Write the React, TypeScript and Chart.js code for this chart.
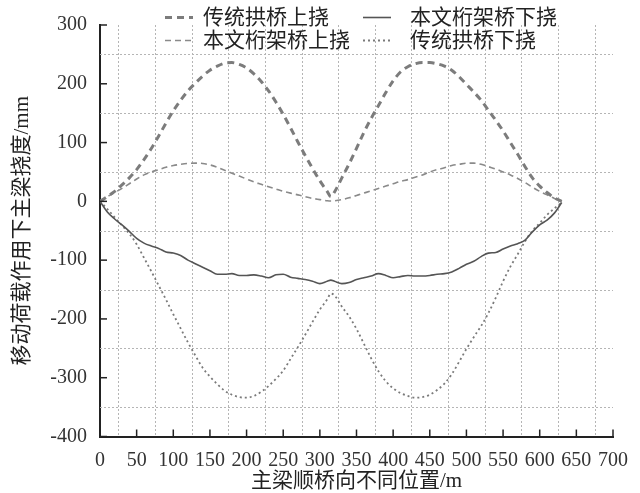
import React, { useEffect, useRef } from 'react';
import { Chart, registerables } from 'chart.js';

Chart.register(...registerables);

// 主梁顺桥向位置 (m)
const positions = [
  0, 10, 20, 30, 40, 50, 60, 70, 80, 90, 100, 110, 120, 130, 140, 150, 160, 170, 180, 190,
  200, 210, 220, 230, 240, 250, 260, 270, 280, 290, 300, 310, 315, 320, 330, 340, 350, 360,
  370, 380, 390, 400, 410, 420, 430, 440, 450, 460, 470, 480, 490, 500, 510, 520, 530, 540,
  550, 560, 570, 580, 590, 600, 610, 620, 630,
];

// 传统拱桥上挠
const archUp = [
  0, 8, 17, 28, 40, 54, 71, 90, 111, 133, 154, 172, 188, 201, 213, 223, 230, 235, 236, 233,
  227, 217, 204, 188, 169, 148, 125, 101, 78, 56, 35, 17, 8, 16, 40, 64, 90, 117,
  141, 163, 185, 205, 220, 229, 234, 236, 236, 234, 230, 223, 212, 199, 186, 172, 155, 138,
  120, 100, 80, 59, 40, 26, 15, 6, 0,
];

// 本文桁架桥上挠
const trussUp = [
  0, 8, 15, 22, 30, 38, 45, 50, 54, 58, 61, 63, 64.5, 65, 64.5, 62, 58, 53, 48, 43,
  38, 33, 29, 25, 21, 17, 14, 11, 8, 5, 3, 1, 0.5, 1, 3, 6, 10, 14,
  18, 22, 26, 30, 34, 37, 41, 45, 50, 54, 57, 61, 63, 65, 65, 63, 59, 55,
  50, 45, 39, 32, 24, 17, 11, 5, 0,
];

// 本文桁架桥下挠
const trussDown = [
  0, -18, -30, -40, -51, -63, -71, -76, -80, -86, -88, -92, -100, -106, -112, -118, -124, -124, -123, -126,
  -126, -125, -127, -130, -125, -124, -129, -131, -133, -136, -140, -136, -134, -136, -140, -138, -133, -130,
  -127, -123, -126, -130, -128, -126, -127, -127, -126, -124, -123, -120, -114, -107, -102, -94, -88, -87,
  -81, -76, -72, -66, -52, -40, -32, -20, -2,
];

// 传统拱桥下挠
const archDown = [
  0, -13, -27, -41, -55, -73, -96, -119, -143, -167, -192, -216, -240, -262, -283, -298, -311, -322, -329, -333,
  -334, -331, -324, -314, -302, -288, -268, -248, -227, -205, -184, -167, -157, -160, -179, -196, -217, -242,
  -267, -289, -306, -318, -326, -331, -334, -333, -329, -321, -310, -294, -273, -251, -231, -212, -190, -164,
  -136, -111, -90, -68, -50, -37, -23, -12, -2,
];

const seriesLabels = ['传统拱桥上挠', '本文桁架桥上挠', '本文桁架桥下挠', '传统拱桥下挠'];

const xGridValues = [25, 75, 125, 175, 225, 275, 325, 375, 425, 475, 525, 575, 625, 675];
const yGridValues = [250, 150, 50, -50, -150, -250, -350];

const xTitle = '主梁顺桥向不同位置/m';
const yTitle = '移动荷载作用下主梁挠度/mm';

const FONT_NUM = "'Liberation Serif', 'DejaVu Serif', serif";
const FONT_TXT = "'Liberation Serif', 'Noto Sans CJK SC', serif";

const customPlugin = {
  id: 'customDecor',
  beforeDatasetsDraw(chart: any) {
    const { ctx, chartArea: a, scales } = chart;
    const x = scales.x;
    const y = scales.y;
    ctx.save();
    ctx.strokeStyle = '#b5b5b5';
    ctx.lineWidth = 1;
    ctx.setLineDash([2, 2]);
    for (const v of xGridValues) {
      const px = Math.round(x.getPixelForValue(v)) + 0.5;
      ctx.beginPath();
      ctx.moveTo(px, a.top);
      ctx.lineTo(px, a.bottom);
      ctx.stroke();
    }
    for (const v of yGridValues) {
      const py = Math.round(y.getPixelForValue(v)) + 0.5;
      ctx.beginPath();
      ctx.moveTo(a.left, py);
      ctx.lineTo(a.right, py);
      ctx.stroke();
    }
    ctx.restore();
  },
  afterDraw(chart: any) {
    const { ctx, chartArea: a, scales } = chart;
    const x = scales.x;
    const y = scales.y;
    ctx.save();
    ctx.strokeStyle = '#222';
    ctx.lineWidth = 1.5;
    ctx.setLineDash([]);
    for (const t of x.ticks) {
      const px = x.getPixelForValue(t.value);
      ctx.beginPath();
      ctx.moveTo(px, a.bottom);
      ctx.lineTo(px, a.bottom - 7);
      ctx.stroke();
    }
    for (const t of y.ticks) {
      const py = y.getPixelForValue(t.value);
      ctx.beginPath();
      ctx.moveTo(a.left, py);
      ctx.lineTo(a.left + 7, py);
      ctx.stroke();
    }
    // legend (two columns)
    const colSym = [165, 363];
    const colText = [203, 410];
    const rowY = [16, 39];
    ctx.font = "21px 'Noto Sans CJK SC', sans-serif";
    ctx.textBaseline = 'middle';
    ctx.textAlign = 'left';
    chart.data.datasets.forEach((ds: any, i: number) => {
      const col = i >= 2 ? 1 : 0;
      const row = i % 2;
      const sy = rowY[row] + 1.5;
      ctx.strokeStyle = ds.borderColor;
      ctx.lineWidth = ds.borderWidth;
      ctx.setLineDash(ds.borderDash || []);
      ctx.beginPath();
      ctx.moveTo(colSym[col], sy);
      ctx.lineTo(colSym[col] + 28, sy);
      ctx.stroke();
      ctx.setLineDash([]);
      ctx.fillStyle = '#222';
      ctx.fillText(ds.label, colText[col], rowY[row]);
    });
    ctx.restore();
  },
};

export default function App() {
  const ref = useRef<HTMLCanvasElement | null>(null);
  useEffect(() => {
    document.body.style.margin = '0';
    const canvas = ref.current;
    if (!canvas) return;
    const mk = (vals: number[]) => positions.map((p, i) => ({ x: p, y: vals[i] }));
    const chart = new Chart(canvas, {
      type: 'line',
      data: {
        datasets: [
          {
            label: seriesLabels[0],
            data: mk(archUp),
            borderColor: '#7c7c7c',
            borderWidth: 3,
            borderDash: [7, 5],
            pointRadius: 0,
            cubicInterpolationMode: 'monotone',
          },
          {
            label: seriesLabels[1],
            data: mk(trussUp),
            borderColor: '#8a8a8a',
            borderWidth: 1.6,
            borderDash: [6, 4],
            pointRadius: 0,
            cubicInterpolationMode: 'monotone',
          },
          {
            label: seriesLabels[2],
            data: mk(trussDown),
            borderColor: '#555555',
            borderWidth: 1.6,
            pointRadius: 0,
            cubicInterpolationMode: 'monotone',
          },
          {
            label: seriesLabels[3],
            data: mk(archDown),
            borderColor: '#7a7a7a',
            borderWidth: 1.8,
            borderDash: [2, 3],
            pointRadius: 0,
            cubicInterpolationMode: 'monotone',
          },
        ] as any,
      },
      options: {
        responsive: false,
        animation: false,
        layout: { padding: { top: 21.5, right: 26.7, left: 0, bottom: 0 } },
        plugins: {
          legend: { display: false },
          tooltip: { enabled: false },
        },
        scales: {
          x: {
            type: 'linear',
            min: 0,
            max: 700,
            grid: { display: false, drawTicks: false },
            border: { display: true, color: '#222', width: 2 },
            ticks: {
              stepSize: 50,
              autoSkip: false,
              maxRotation: 0,
              padding: 12,
              color: '#333',
              font: { family: FONT_NUM, size: 20 },
            },
            title: {
              display: true,
              text: xTitle,
              color: '#222',
              font: { family: FONT_TXT, size: 21, lineHeight: 1 },
              padding: { top: 0, bottom: 1 },
            },
            afterFit: (s: any) => {
              s.height = 56.5;
            },
          },
          y: {
            type: 'linear',
            min: -400,
            max: 300,
            grid: { display: false, drawTicks: false },
            border: { display: true, color: '#222', width: 2 },
            ticks: {
              stepSize: 100,
              padding: 13,
              color: '#333',
              font: { family: FONT_NUM, size: 20 },
            },
            title: {
              display: true,
              text: yTitle,
              color: '#222',
              font: { family: FONT_TXT, size: 21, lineHeight: 1 },
              padding: { top: 12, bottom: 0 },
            },
            afterFit: (s: any) => {
              s.width = 100;
            },
          },
        },
      } as any,
      plugins: [customPlugin],
    });
    return () => chart.destroy();
  }, []);
  return (
    <div style={{ width: 640, height: 493 }}>
      <canvas ref={ref} width={640} height={493} style={{ display: 'block' }} />
    </div>
  );
}
